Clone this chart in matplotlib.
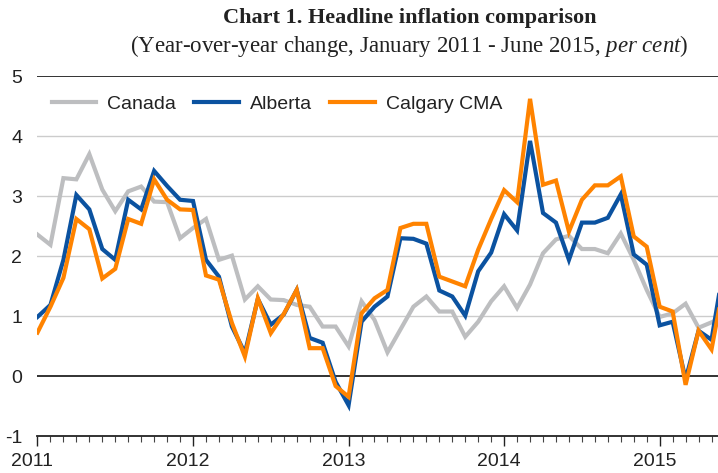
import numpy as np
import matplotlib
matplotlib.use("Agg")
import matplotlib.pyplot as plt
import matplotlib.transforms as mtransforms

# monthly year-over-year CPI change, Jan 2011 - Jun 2015
canada = [2.36, 2.19, 3.30, 3.28, 3.70, 3.11, 2.75, 3.08, 3.16, 2.91, 2.90, 2.30,
          2.47, 2.62, 1.94, 2.01, 1.28, 1.50, 1.28, 1.27, 1.19, 1.16, 0.83, 0.83,
          0.50, 1.25, 0.94, 0.40, 0.78, 1.16, 1.33, 1.08, 1.08, 0.66, 0.91, 1.25,
          1.50, 1.14, 1.53, 2.05, 2.28, 2.34, 2.12, 2.12, 2.05, 2.38, 1.94, 1.44,
          0.99, 1.05, 1.21, 0.81, 0.90, 1.00]
alberta = [0.99, 1.19, 1.94, 3.02, 2.78, 2.12, 1.94, 2.94, 2.78, 3.42, 3.17, 2.94,
           2.92, 1.94, 1.66, 0.83, 0.39, 1.29, 0.86, 1.03, 1.44, 0.64, 0.56, -0.09,
           -0.48, 0.91, 1.16, 1.33, 2.30, 2.29, 2.21, 1.43, 1.33, 1.01, 1.75, 2.06,
           2.70, 2.43, 3.92, 2.72, 2.56, 1.94, 2.56, 2.56, 2.64, 3.03, 2.03, 1.86,
           0.85, 0.91, -0.05, 0.76, 0.61, 1.90]
calgary = [0.73, 1.16, 1.64, 2.62, 2.45, 1.63, 1.79, 2.62, 2.54, 3.28, 2.94, 2.78,
           2.77, 1.68, 1.61, 0.89, 0.33, 1.30, 0.72, 1.04, 1.44, 0.47, 0.47, -0.16,
           -0.34, 1.05, 1.30, 1.44, 2.47, 2.54, 2.54, 1.66, 1.58, 1.50, 2.11, 2.62,
           3.10, 2.90, 4.62, 3.19, 3.26, 2.41, 2.94, 3.18, 3.18, 3.33, 2.33, 2.16,
           1.16, 1.08, -0.14, 0.76, 0.45, 1.60]
years = ['2011', '2012', '2013', '2014', '2015']

months = np.arange(len(canada))

plt.rcParams['font.family'] = ['Liberation Sans', 'DejaVu Sans']
plt.rcParams['axes.unicode_minus'] = False
plt.rcParams['mathtext.fontset'] = 'custom'
plt.rcParams['mathtext.rm'] = 'Liberation Serif'
plt.rcParams['mathtext.it'] = 'Liberation Serif:italic'

fig = plt.figure(figsize=(7.18, 4.73), dpi=100)
ax = fig.add_axes([0.0522, 0.0772, 0.9478, 0.7621])

ax.plot(months, canada, color='#bdbec0', lw=3, label='Canada', solid_joinstyle='miter')
ax.plot(months, alberta, color='#0b52a0', lw=3, label='Alberta', solid_joinstyle='miter')
ax.plot(months, calgary, color='#ff8300', lw=3, label='Calgary CMA', solid_joinstyle='miter')

ax.set_xlim(0, 52.5)
ax.set_ylim(-1, 5)

# grid lines
for v in [1, 2, 3, 4]:
    ax.axhline(v, color='#cccccc', lw=1, zorder=0)
ax.axhline(0, color='#222222', lw=1.3, zorder=1)
ax.axhline(5, color='#222222', lw=1.3, zorder=1)

for s in ['left', 'right', 'top']:
    ax.spines[s].set_visible(False)
ax.spines['bottom'].set_color('#222222')
ax.spines['bottom'].set_linewidth(1.3)

ax.set_yticks(range(-1, 6))
ax.tick_params(axis='y', length=0, pad=11, labelsize=14, labelcolor='#222222')

ax.set_xticks(range(0, 53, 12))
ax.set_xticklabels(years)
ax.set_xticks(range(0, 53), minor=True)
ax.tick_params(axis='x', which='major', direction='out', length=7, width=1,
               color='#222222', pad=5, labelsize=14, labelcolor='#222222')
ax.tick_params(axis='x', which='minor', direction='out', length=4, width=0.8,
               color='#444444')
shift = mtransforms.ScaledTranslation(-5 / 100, 0, fig.dpi_scale_trans)
for lab in ax.get_xticklabels():
    lab.set_transform(lab.get_transform() + shift)

ax.legend(loc='center left', bbox_to_anchor=(0.0209, 0.9223), ncol=3, frameon=False,
          fontsize=14, handlelength=2.3, handletextpad=0.55, columnspacing=0.95,
          borderpad=0, borderaxespad=0, labelcolor='#222222')

fig.text(0.57, 0.962, 'Chart 1. Headline inflation comparison', ha='center', va='center',
         fontsize=16, fontweight='bold', family='Liberation Serif', color='#222222')
sub = '(Year-over-year change, January 2011 - June 2015, $\\it{per\\ cent}$)'
fig.text(0.57, 0.903, sub, ha='center', va='center', fontsize=16.5,
         family='Liberation Serif', color='#222222')

fig.savefig('out.png', dpi=100)
